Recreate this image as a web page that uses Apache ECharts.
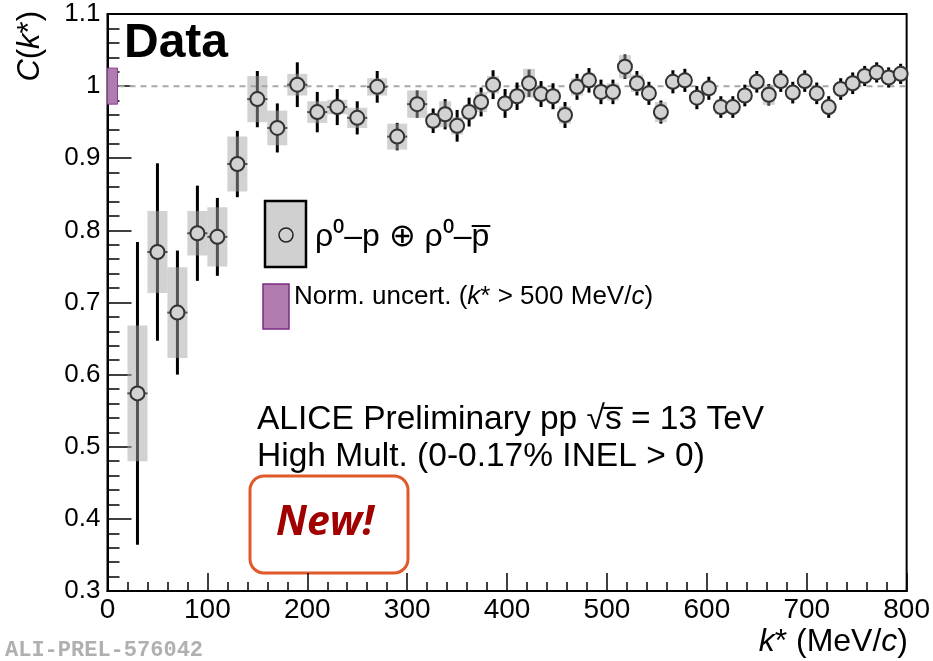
<!DOCTYPE html>
<html><head><meta charset="utf-8">
<script src="https://cdn.jsdelivr.net/npm/echarts@6/dist/echarts.min.js"></script>
<style>html,body{margin:0;padding:0;background:#fff}#c{width:933px;height:661px}</style>
</head><body><div id="c"></div>
<script>
// k* bin centres (MeV/c)
const kStar = [30,50,70,90,110,130,150,170,190,210,230,250,270,290,310,
  326,338,350,362,374,386,398,410,422,434,446,458,470,482,494,506,518,530,542,
  554,566,578,590,602,614,626,638,650,662,674,686,698,710,722,734,746,758,770,782,794];
// bin widths (MeV/c)
const binWidth = [20,20,20,20,20,20,20,20,20,20,20,20,20,20,20,
  12,12,12,12,12,12,12,12,12,12,12,12,12,12,12,12,12,12,12,
  12,12,12,12,12,12,12,12,12,12,12,12,12,12,12,12,12,12,12,12,12];
// C(k*)
const cValue = [0.574,0.770,0.686,0.796,0.791,0.892,0.982,0.942,1.002,0.964,0.971,0.956,0.999,0.930,0.975,
  0.952,0.961,0.945,0.964,0.978,1.002,0.976,0.986,1.004,0.989,0.986,0.960,0.999,1.008,0.992,0.992,1.027,1.004,0.990,
  0.964,1.006,1.008,0.984,0.997,0.971,0.971,0.987,1.006,0.988,1.007,0.991,1.007,0.990,0.971,0.996,1.004,1.014,1.019,1.012,1.017];
// statistical uncertainty (half)
const statErr = [0.210,0.123,0.086,0.066,0.054,0.046,0.039,0.034,0.031,0.028,0.025,0.023,0.022,0.019,0.019,
  0.017,0.021,0.022,0.020,0.020,0.020,0.020,0.019,0.019,0.018,0.018,0.018,0.018,0.017,0.017,0.017,0.017,0.017,0.016,
  0.016,0.016,0.016,0.016,0.016,0.015,0.015,0.015,0.015,0.015,0.015,0.015,0.015,0.015,0.015,0.015,0.015,0.014,0.014,0.014,0.014];
// systematic uncertainty (half)
const sysErr = [0.094,0.057,0.063,0.031,0.041,0.038,0.032,0.024,0.015,0.015,0.010,0.014,0.012,0.018,0.019,
  0.010,0.018,0.012,0.010,0.014,0.012,0.008,0.010,0.020,0.010,0.010,0.012,0.012,0.010,0.010,0.012,0.016,0.012,0.008,
  0.014,0.008,0.008,0.008,0.008,0.010,0.008,0.008,0.008,0.014,0.008,0.008,0.008,0.008,0.008,0.008,0.008,0.008,0.008,0.008,0.008];
// normalisation uncertainty band [kFrom, kTo, centre, half]
const normBand = [0, 10, 1.0, 0.025];
const xRange = [0, 800], xStep = 100;
const yRange = [0.3, 1.1], yStep = 0.1;
const refLine = 1.0;

const pts = kStar.map((k, i) => [k, cValue[i], statErr[i], sysErr[i], binWidth[i]]);
const FONT = '"Liberation Sans", Arial, Helvetica, sans-serif';

const chart = echarts.init(document.getElementById('c'), null, {renderer: 'canvas'});
chart.setOption({
  animation: false,
  backgroundColor: '#fff',
  grid: {left: 107.5, right: 25, top: 14, bottom: 70, show: true, borderColor: '#000', borderWidth: 2, backgroundColor: 'transparent'},
  xAxis: {
    type: 'value', min: xRange[0], max: xRange[1], interval: xStep,
    axisLine: {lineStyle: {color: '#000', width: 2}},
    axisTick: {inside: true, length: 18, lineStyle: {color: '#000', width: 1.5}},
    minorTick: {show: true, splitNumber: 5, length: 9, lineStyle: {color: '#000', width: 1.5}},
    axisLabel: {color: '#000', fontSize: 28, fontFamily: FONT, margin: 5},
    splitLine: {show: false}
  },
  yAxis: {
    type: 'value', min: yRange[0], max: yRange[1], interval: yStep,
    axisLine: {lineStyle: {color: '#000', width: 2}},
    axisTick: {inside: true, length: 24, lineStyle: {color: '#000', width: 1.5}},
    minorTick: {show: true, splitNumber: 5, length: 12, lineStyle: {color: '#000', width: 1.5}},
    axisLabel: {color: '#000', fontSize: 26, fontFamily: FONT, margin: 7, formatter: v => String(+v.toFixed(2))},
    splitLine: {show: false}
  },
  series: [
    {
      type: 'line', data: [[xRange[0], refLine], [xRange[1], refLine]], symbol: 'none', z: 1,
      lineStyle: {color: '#a8a8a8', width: 2, type: [6, 5]}, silent: true
    },
    {
      type: 'custom', z: 2, silent: true,
      data: [normBand],
      renderItem: (p, api) => {
        const a = api.coord([api.value(0), api.value(2) + api.value(3)]);
        const b = api.coord([api.value(1), api.value(2) - api.value(3)]);
        return {type: 'rect', shape: {x: a[0], y: a[1], width: b[0] - a[0], height: b[1] - a[1]},
          style: {fill: '#b07cb0', stroke: '#8a3f8f', lineWidth: 1}};
      }
    },
    {
      type: 'custom', z: 3, silent: true, data: pts,
      renderItem: (p, api) => {
        const k = api.value(0), v = api.value(1), e = api.value(2), w = api.value(4);
        const t = api.coord([k, v + e]), b = api.coord([k, v - e]);
        const l = api.coord([k - w / 2, v]), r = api.coord([k + w / 2, v]);
        return {type: 'group', children: [
          {type: 'line', shape: {x1: t[0], y1: t[1], x2: b[0], y2: b[1]}, style: {stroke: '#000', lineWidth: 3}},
          {type: 'line', shape: {x1: l[0], y1: l[1], x2: r[0], y2: r[1]}, style: {stroke: '#000', lineWidth: 2}}
        ]};
      }
    },
    {
      type: 'custom', z: 4, silent: true, data: pts,
      renderItem: (p, api) => {
        const k = api.value(0), v = api.value(1), s = api.value(3), w = api.value(4);
        const a = api.coord([k - w / 2, v + s]), b = api.coord([k + w / 2, v - s]);
        return {type: 'rect', shape: {x: a[0], y: a[1], width: b[0] - a[0], height: b[1] - a[1]},
          style: {fill: 'rgba(165,165,165,0.5)'}};
      }
    },
    {
      type: 'scatter', z: 5, silent: true, data: pts.map(d => [d[0], d[1]]),
      symbol: 'circle', symbolSize: 14,
      itemStyle: {color: '#d2d2d2', borderColor: '#333', borderWidth: 2, opacity: 1}
    }
  ],
  graphic: [
    {type: 'text', x: 124, y: 44, style: {text: 'Data', font: 'bold 48px ' + FONT, fill: '#000', verticalAlign: 'middle'}},
    {type: 'rect', shape: {x: 265, y: 201, width: 41, height: 66}, style: {fill: '#d0d0d0', stroke: '#000', lineWidth: 2.5}},
    {type: 'circle', shape: {cx: 286, cy: 235, r: 7}, style: {fill: '#d0d0d0', stroke: '#222', lineWidth: 1.5}},
    {type: 'text', x: 315, y: 237, style: {text: 'ρ⁰–p ⊕ ρ⁰–p\u0305', font: '32px ' + FONT, fill: '#000', verticalAlign: 'middle'}},
    {type: 'rect', shape: {x: 263, y: 284, width: 26, height: 45}, style: {fill: '#b07cb0', stroke: '#7b2b82', lineWidth: 1.5}},
    {type: 'text', x: 294, y: 297, style: {
      text: '{n|Norm. uncert. (}{i|k}{n|* > 500 MeV/}{i|c}{n|)}', verticalAlign: 'middle', fill: '#000',
      rich: {n: {fontSize: 26, fontFamily: FONT}, i: {fontSize: 26, fontFamily: FONT, fontStyle: 'italic'}}}},
    {type: 'text', x: 257, y: 420, style: {text: 'ALICE Preliminary pp √s\u0305 = 13 TeV', font: '33.5px ' + FONT, fill: '#000', verticalAlign: 'middle'}},
    {type: 'text', x: 257, y: 457, style: {text: 'High Mult. (0-0.17% INEL > 0)', font: '33.5px ' + FONT, fill: '#000', verticalAlign: 'middle'}},
    {type: 'rect', shape: {x: 250, y: 476, width: 158, height: 97, r: 14}, style: {fill: '#fff', stroke: '#e0592a', lineWidth: 3}},
    {type: 'text', x: 325, y: 523, style: {text: 'New!', font: 'italic bold 41px "Open Sans", Lato, sans-serif', fill: '#a00000', align: 'center', verticalAlign: 'middle'}},
    {type: 'text', x: 908, y: 642, style: {
      text: '{i|k}{n|* (MeV/}{i|c}{n|)}', align: 'right', verticalAlign: 'middle', fill: '#000',
      rich: {n: {fontSize: 32, fontFamily: FONT}, i: {fontSize: 32, fontFamily: FONT, fontStyle: 'italic'}}}},
    {type: 'text', x: 30, y: 11, rotation: Math.PI / 2, style: {
      text: '{i|C}{n|(}{i|k}{n|*)}', align: 'right', verticalAlign: 'middle', fill: '#000',
      rich: {n: {fontSize: 31, fontFamily: FONT}, i: {fontSize: 31, fontFamily: FONT, fontStyle: 'italic'}}}},
    {type: 'text', x: 5, y: 650, style: {text: 'ALI-PREL-576042', font: 'bold 22px "Liberation Mono", "DejaVu Sans Mono", monospace', fill: '#b0b0b0', verticalAlign: 'middle'}}
  ]
});
</script></body></html>
